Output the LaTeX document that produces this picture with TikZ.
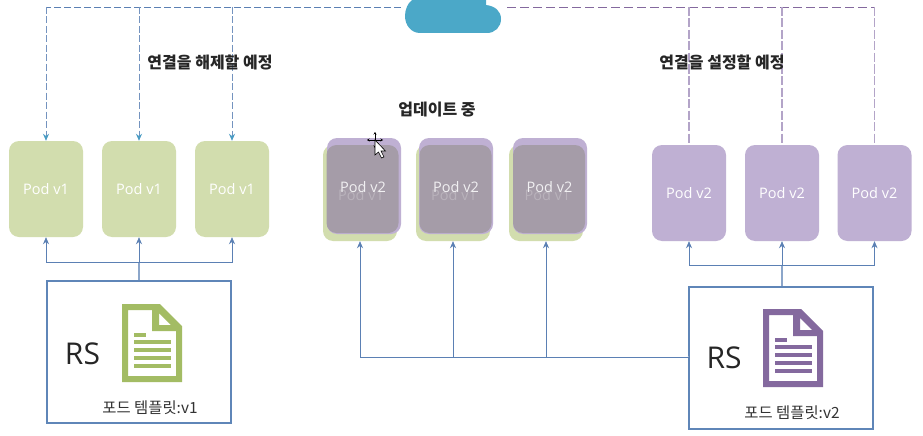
\documentclass[tikz,border=0pt]{standalone}
\usepackage{fontspec}
\setmainfont{Open Sans}
\newfontfamily\krfont{Noto Sans CJK KR}
\usetikzlibrary{arrows.meta,calc}
\definecolor{podgreen}{HTML}{D2DDAE}
\definecolor{podpurple}{HTML}{BFB0D3}
\definecolor{podgray}{HTML}{A59CA8}
\definecolor{wire}{HTML}{5B80B4}
\definecolor{rsblue}{HTML}{5F86B8}
\definecolor{docgreen}{HTML}{A3BC64}
\definecolor{docpurple}{HTML}{84699E}
\definecolor{cloudblue}{HTML}{4BA8C8}
\definecolor{dashtip}{HTML}{4A9CC4}
\definecolor{dashlilac}{HTML}{B3A4C8}
\tikzset{
  podbox/.style={minimum width=74pt,minimum height=96pt,rounded corners=10pt,inner sep=0pt,text=white,font=\fontsize{14.5}{16}\selectfont},
  pgreen/.style={podbox,fill=podgreen},
  ppurple/.style={podbox,fill=podpurple},
  pgray/.style={podbox,fill=podgray,minimum width=72pt,minimum height=88pt},
  rsbox/.style={draw=rsblue,line width=2.2pt,fill=white,minimum width=184pt,minimum height=142pt,inner sep=0pt},
  wirel/.style={wire,line width=.7pt},
  wirea/.style={wirel,-{Stealth[length=7pt,width=6pt]}},
  wirethick/.style={wire!70,line width=1.5pt},
  dashh/.style={wire,line width=.7pt,dash pattern=on 7pt off 3pt},
  dashv/.style={wire!85,line width=.9pt,dash pattern=on 7pt off 2.5pt,-{Stealth[length=7pt,width=6pt,color=dashtip]}},
  dashp/.style={docpurple,line width=.7pt,dash pattern=on 9pt off 4pt},
  dashq/.style={dashlilac,line width=1.3pt,dash pattern=on 9pt off 2.5pt},
  lbl/.style={font=\krfont\bfseries\fontsize{16}{18}\selectfont,text=black!85,inner sep=0pt},
  tpl/.style={font=\krfont\fontsize{15.4}{18}\selectfont,text=black!80,inner sep=0pt},
  rslbl/.style={font=\fontsize{30}{34}\selectfont,text=black!85,inner sep=0pt},
  ghost/.style={font=\fontsize{14.5}{16}\selectfont,text=white!22!podgray,inner sep=0pt},
  podtxt/.style={font=\fontsize{14.5}{16}\selectfont,text=white!85!podgray,inner sep=0pt},
}
\newcommand{\docicon}[3]{% x, y, colour
  \begin{scope}[shift={(#1,#2)}]
    \fill[#3,even odd rule] (0,0) -- (38,0) -- (60,22) -- (60,78) -- (0,78) -- cycle
      (6,6) -- (30,6) -- (30,27) -- (54,27) -- (54,72) -- (6,72) -- cycle
      (37,9) -- (49,21) -- (37,21) -- cycle;
    \fill[#3] (12,29) rectangle (24,32.5);
    \foreach \yy in {36,44,52,60}{\fill[#3] (12,\yy) rectangle (49,\yy+3.5);}
  \end{scope}}
\begin{document}
\begin{tikzpicture}[x=1pt,y=-1pt]
\useasboundingbox (0,0) rectangle (923,436);
\fill[white] (0,0) rectangle (923,436);

% cloud
\fill[cloudblue] (420,33) .. controls (411,33) and (405,25) .. (405,16)
  .. controls (405,9) and (408,3) .. (412,0) -- (486,0) -- (486,5)
  .. controls (495,6) and (501,11) .. (501,19) .. controls (501,27) and (495,33) .. (487,33) -- cycle;
\coordinate (cloudL) at (401,7);
\coordinate (cloudR) at (507,7);

% pods left
\node[pgreen] (a1) at (46,189) {Pod v1};
\node[pgreen] (a2) at (139,189) {Pod v1};
\node[pgreen] (a3) at (232,189) {Pod v1};
% pods middle
\node[pgreen] (g1) at (360,193) {};
\node[pgreen] (g2) at (453,193) {};
\node[pgreen] (g3) at (546,193) {};
\node[ppurple] (h1) at (364,186) {};
\node[ppurple] (h2) at (456,186) {};
\node[ppurple] (h3) at (550,186) {};
\node[pgray] (m1) at (362.5,189) {};
\node[pgray] (m2) at (455.5,189) {};
\node[pgray] (m3) at (549,189) {};
\foreach \n in {1,2,3}{
  \node[ghost] at ($(m\n)+(-1.5,6)$) {Pod v1};
  \node[podtxt] at ($(m\n)+(0.5,-2)$) {Pod v2};
}
% pods right
\node[ppurple] (c1) at (689,193) {Pod v2};
\node[ppurple] (c2) at (782,193) {Pod v2};
\node[ppurple] (c3) at (874.5,193) {Pod v2};

% RS boxes
\node[rsbox] (rsa) at (139,352) {};
\node[rsbox] (rsc) at (781,358) {};
\docicon{122}{304}{docgreen}
\docicon{763}{309}{docpurple}
\node[rslbl] (rsat) at (82.5,354) {RS};
\node[rslbl] (rsct) at (724,358) {RS};
\node[tpl] (tpa) at (150,408) {포드 템플릿:v1};
\node[tpl] (tpc) at (792,413) {포드 템플릿:v2};

% top dashed connectors
\coordinate (ta) at (46,7);
\coordinate (tc) at (874.5,7);
\draw[dashh] (cloudL) -- (ta);
\draw[dashp] (cloudR) -- (tc);
\draw[dashv] (ta) -- (a1.north);
\draw[dashv] (a2.north |- ta) -- (a2.north);
\draw[dashv] (a3.north |- ta) -- (a3.north);
\draw[dashq] (c1.north |- tc) -- (c1.north);
\draw[dashq] (c2.north |- tc) -- (c2.north);
\draw[dashq] (tc) -- (c3.north);

% labels
\node[lbl] (l1) at (210,62) {연결을 해제할 예정};
\node[lbl] (l2) at (722,62) {연결을 설정할 예정};
\node[lbl] (l3) at (437,110) {업데이트 중};

% bottom left connectors
\coordinate (ja) at (139,262);
\draw[wirethick] (rsa.north) -- (ja);
\draw[wirea] (ja) -| (a1.south);
\draw[wirea] (ja) -- (a2.south);
\draw[wirea] (ja) -| (a3.south);
% bottom right connectors
\coordinate (jc) at (782,265);
\draw[wirethick] (rsc.north -| jc) -- (jc);
\draw[wirea] (jc) -| (c1.south);
\draw[wirea] (jc) -- (c2.south);
\draw[wirea] (jc) -| (c3.south);
% middle connectors
\coordinate (jm) at (689,357);
\draw[wirethick] (rsc.west |- jm) -- (jm);
\draw[wirea] (jm) -| (g1.south);
\draw[wirea] (jm) -| (g2.south);
\draw[wirea] (jm) -| (g3.south);

% cursor
\begin{scope}[shift={(375,140)}]
  \draw[black,line width=.7pt,{Stealth[length=2.5pt,width=3pt]}-{Stealth[length=2.5pt,width=3pt]}] (-8,0) -- (8,0);
  \draw[black,line width=.7pt,{Stealth[length=2.5pt,width=3pt]}-{Stealth[length=2.5pt,width=3pt]}] (0,-8) -- (0,8);
  \draw[black,line width=.6pt,fill=white] (0,0) -- (0,15) -- (3.5,12) -- (6.5,18) -- (9,17) -- (6,11) -- (10.5,11) -- cycle;
\end{scope}
\end{tikzpicture}
\end{document}
